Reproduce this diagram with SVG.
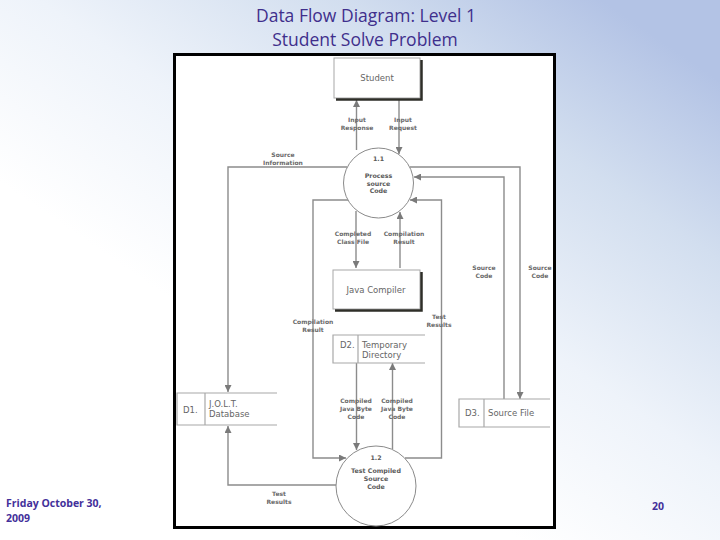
<svg xmlns="http://www.w3.org/2000/svg" width="720" height="540" viewBox="0 0 720 540">
<defs>
<linearGradient id="bg" x1="0.45" y1="0.75" x2="1" y2="0.15">
<stop offset="0" stop-color="#ffffff"/>
<stop offset="0.35" stop-color="#eef3fa"/>
<stop offset="0.7" stop-color="#d2deef"/>
<stop offset="1" stop-color="#b3c3e5"/>
</linearGradient>
<marker id="ah" viewBox="0 0 10 10" refX="10" refY="5" markerWidth="7" markerHeight="7" markerUnits="userSpaceOnUse" orient="auto">
<path d="M0,0 L10,5 L0,10 z" fill="#7a7a7a"/>
</marker>
<style>
.flow{fill:none;stroke:#8c8c8c;stroke-width:1.4;marker-end:url(#ah)}
.box{fill:#fff;stroke:#a8a8a8;stroke-width:1}
.shadow{fill:none;stroke:#2e2e28;stroke-width:2.5}
.store{fill:none;stroke:#a8a8a8;stroke-width:1.2}
.proc{fill:#fff;stroke:#8a8a8a;stroke-width:1}
.name{font-family:"DejaVu Sans",sans-serif;font-size:8.5px;fill:#666;text-anchor:middle}
.sname{font-family:"DejaVu Sans",sans-serif;font-size:8.5px;fill:#666}
.lbl{font-family:"DejaVu Sans",sans-serif;font-size:6px;font-weight:bold;fill:#6a6a6a;text-anchor:middle}
.ptxt{font-family:"DejaVu Sans",sans-serif;font-size:6.3px;font-weight:bold;fill:#5a5a5a;text-anchor:middle}
.title{font-family:"Open Sans","Liberation Sans",sans-serif;font-size:17.5px;fill:#3f2f8c;text-anchor:middle}
.foot{font-family:"Open Sans","Liberation Sans",sans-serif;font-size:10.5px;fill:#43309a}
</style>
</defs>
<rect x="0" y="0" width="720" height="540" fill="url(#bg)"/>
<text class="title" x="366" y="22">Data Flow Diagram: Level 1</text>
<text class="title" x="365" y="46">Student Solve Problem</text>
<text class="foot" x="6" y="507" font-weight="bold">Friday October 30,</text>
<text class="foot" x="6" y="522" font-weight="bold">2009</text>
<text class="foot" x="652" y="510" font-weight="bold" font-size="12px">20</text>
<rect x="174.5" y="54.5" width="380" height="473" fill="#fff" stroke="#000" stroke-width="3"/>

<g id="connectors">
<path class="flow" d="M356.5,150 L356.5,100"/>
<path class="flow" d="M399,99 L399,154"/>
<path class="flow" d="M347,167 L228,167 L228,392"/>
<path class="flow" d="M410,167 L520,167 L520,399"/>
<path class="flow" d="M504,399 L504,177 L414,177"/>
<path class="flow" d="M405,458 L441.5,458 L441.5,200 L410,200"/>
<path class="flow" d="M348,200 L313,200 L313,458 L346,458"/>
<path class="flow" d="M356,211 L356,268"/>
<path class="flow" d="M400,268 L400,212"/>
<path class="flow" d="M356.5,363 L356.5,450"/>
<path class="flow" d="M392.5,449 L392.5,363"/>
<path class="flow" d="M336,485 L228,485 L228,426"/>
<text class="lbl"><tspan x="357" y="122">Input</tspan><tspan x="357" y="130">Response</tspan></text>
<text class="lbl"><tspan x="403" y="122">Input</tspan><tspan x="403" y="130">Request</tspan></text>
<text class="lbl"><tspan x="283" y="157">Source</tspan><tspan x="283" y="165">Information</tspan></text>
<text class="lbl"><tspan x="353" y="236">Completed</tspan><tspan x="353" y="244">Class File</tspan></text>
<text class="lbl"><tspan x="404" y="236">Compilation</tspan><tspan x="404" y="244">Result</tspan></text>
<text class="lbl"><tspan x="484" y="270">Source</tspan><tspan x="484" y="278">Code</tspan></text>
<text class="lbl"><tspan x="540" y="270">Source</tspan><tspan x="540" y="278">Code</tspan></text>
<text class="lbl"><tspan x="313" y="324">Compilation</tspan><tspan x="313" y="332">Result</tspan></text>
<text class="lbl"><tspan x="439" y="319">Test</tspan><tspan x="439" y="327">Results</tspan></text>
<text class="lbl"><tspan x="356" y="403">Compiled</tspan><tspan x="356" y="411">Java Byte</tspan><tspan x="356" y="419">Code</tspan></text>
<text class="lbl"><tspan x="397" y="403">Compiled</tspan><tspan x="397" y="411">Java Byte</tspan><tspan x="397" y="419">Code</tspan></text>
<text class="lbl"><tspan x="279" y="496">Test</tspan><tspan x="279" y="504">Results</tspan></text>
</g>

<g id="student">
<rect class="box" x="334" y="58" width="86" height="40"/>
<path class="shadow" d="M421.5,60 L421.5,99.5 L336,99.5"/>
<text class="name" x="377" y="81">Student</text>
</g>

<g id="p1-1">
<circle class="proc" cx="378.5" cy="183" r="35"/>
<text class="ptxt" x="378.5" y="161">1.1</text>
<text class="ptxt"><tspan x="378.5" y="178">Process</tspan><tspan x="378.5" y="186">source</tspan><tspan x="378.5" y="193">Code</tspan></text>
</g>

<g id="java-compiler">
<rect class="box" x="333" y="270" width="87" height="39"/>
<path class="shadow" d="M421.5,272 L421.5,310.5 L335,310.5"/>
<text class="name" x="376" y="293">Java Compiler</text>
</g>

<g id="d2">
<path class="store" d="M425,335 L333,335 L333,363 L425,363 M358,335 L358,363"/>
<text class="sname" x="340" y="348">D2.</text>
<text class="sname" x="362" y="348">Temporary</text>
<text class="sname" x="362" y="358">Directory</text>
</g>

<g id="d1">
<path class="store" d="M277,393 L177,393 L177,425 L277,425 M205,393 L205,425"/>
<text class="sname" x="183" y="413">D1.</text>
<text class="sname" x="209" y="407">J.O.L.T.</text>
<text class="sname" x="209" y="417">Database</text>
</g>

<g id="d3">
<path class="store" d="M550,399 L459,399 L459,427 L550,427 M484,399 L484,427"/>
<text class="sname" x="465" y="416">D3.</text>
<text class="sname" x="488" y="416">Source File</text>
</g>

<g id="p1-2">
<circle class="proc" cx="376" cy="486" r="40"/>
<text class="ptxt" x="376" y="460">1.2</text>
<text class="ptxt"><tspan x="376" y="473">Test Compiled</tspan><tspan x="376" y="481">Source</tspan><tspan x="376" y="489">Code</tspan></text>
</g>
</svg>
